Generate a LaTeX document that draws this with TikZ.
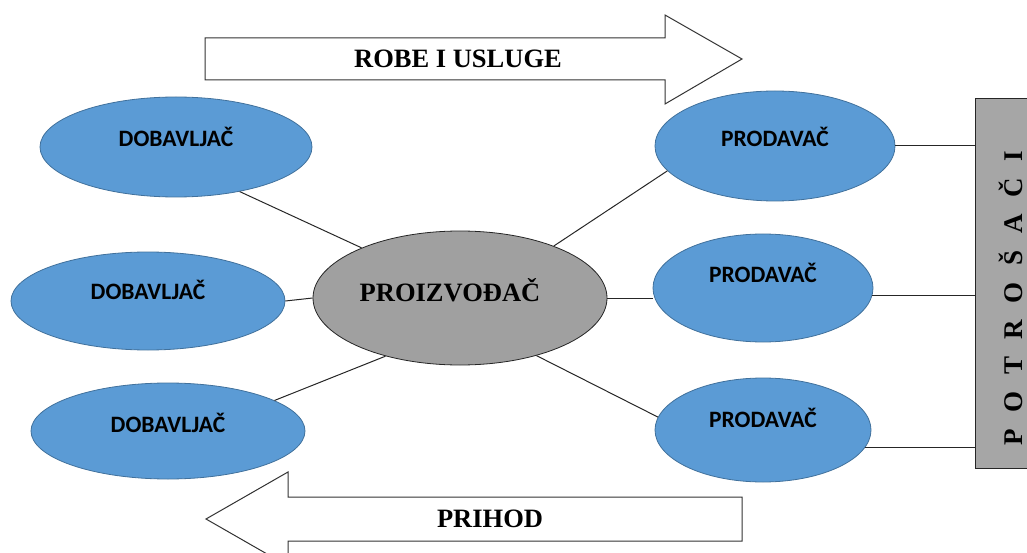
\documentclass[tikz,border=0pt]{standalone}
\usepackage{fontspec}
\setmainfont{Liberation Serif}
\newfontfamily\calib{Carlito}
\usetikzlibrary{shapes.geometric}
\definecolor{eblue}{HTML}{5B9BD5}
\definecolor{eedge}{HTML}{41719C}
\definecolor{pgray}{HTML}{A0A0A0}
\definecolor{bgray}{HTML}{A6A6A6}
\newcommand\lgap{\hspace{0.62em}}
\begin{document}
\begin{tikzpicture}[x=1pt,y=-1pt,
  blueell/.style={ellipse, draw=eedge, line width=0.8pt, fill=eblue, inner sep=0pt},
  lab/.style={font=\calib\bfseries\fontsize{23.5}{25}\selectfont, text=black},
  serifbig/.style={font=\bfseries\fontsize{26.5}{28}\selectfont, text=black},
  conn/.style={draw=black!85, line width=1pt},
  bigarrow/.style={draw=black!80, line width=1pt, fill=white}
]
\useasboundingbox (0,0) rectangle (1027,553);

% big arrows
\draw[bigarrow] (205,38) -- (665,38) -- (665,15) -- (742,59) -- (665,104) -- (665,80) -- (205,80) -- cycle;
\node[serifbig] (robe) at (458,59) {ROBE I USLUGE};
\draw[bigarrow] (742,497) -- (288,497) -- (288,472) -- (206,519) -- (288,566) -- (288,541) -- (742,541) -- cycle;
\node[serifbig] (prihod) at (490,519) {PRIHOD};

% consumers box
\node[draw=black!85, line width=1pt, fill=bgray, minimum width=70pt, minimum height=370pt, anchor=north west, inner sep=0pt] (box) at (975,98) {};
\node[rotate=90, font=\bfseries\fontsize{27}{30}\selectfont] (potr) at (1011,298) {P\lgap O\lgap T\lgap R\lgap O\lgap Š\lgap A\lgap Č\lgap I};

% ellipses
\node[blueell, minimum width=272pt, minimum height=100pt, label={[lab,yshift=10pt]center:DOBAVLJAČ}] (d1) at (176,147) {};
\node[blueell, minimum width=274pt, minimum height=98pt, label={[lab,yshift=11pt]center:DOBAVLJAČ}] (d2) at (148,301) {};
\node[blueell, minimum width=274pt, minimum height=96pt, label={[lab,yshift=8pt]center:DOBAVLJAČ}] (d3) at (168,431) {};
\node[ellipse, draw=black!85, line width=0.8pt, fill=pgray, inner sep=0pt, minimum width=294pt, minimum height=134pt, label={[serifbig,xshift=-10pt,yshift=8pt]center:PROIZVOĐAČ}] (p) at (460,298) {};
\node[blueell, minimum width=240pt, minimum height=110pt, label={[lab,yshift=9pt]center:PRODAVAČ}] (r1) at (775,146) {};
\node[blueell, minimum width=220pt, minimum height=108pt, label={[lab,yshift=15pt]center:PRODAVAČ}] (r2) at (763,288) {};
\node[blueell, minimum width=216pt, minimum height=104pt, label={[lab,yshift=12pt]center:PRODAVAČ}] (r3) at (763,430) {};

% connectors
\draw[conn] (d1.-35) -- (p.153);
\draw[conn] (d2.east) -- (p.west);
\draw[conn] (d3.16) -- (p.-142);
\draw[conn] (p.29) -- (r1.-167);
\draw[conn] (p.east) -- (p.east -| r2.west);
\draw[conn] (p.-37) -- (r3.173);
\draw[conn] (r1.east) -- (r1.east -| box.west);
\draw[conn] (r2.-4) -- (r2.-4 -| box.west);
\draw[conn] (r3.-10) -- (r3.-10 -| box.west);
\end{tikzpicture}
\end{document}
